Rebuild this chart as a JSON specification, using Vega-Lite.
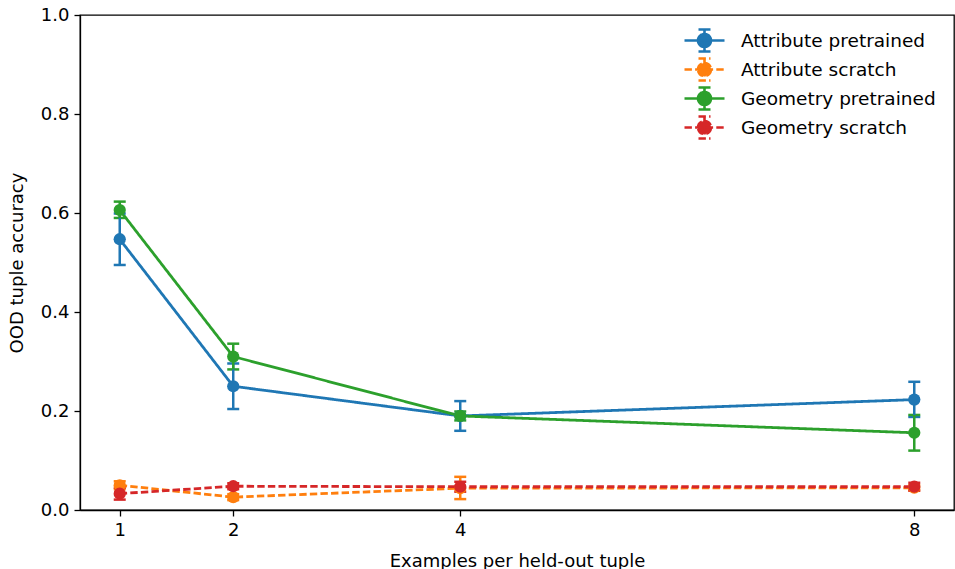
{
  "$schema": "https://vega.github.io/schema/vega-lite/v6.json",
  "width": 874,
  "height": 495,
  "autosize": {"type": "none"},
  "padding": {"left": 80, "top": 15, "right": 1, "bottom": 59},
  "background": "white",
  "config": {
    "font": "DejaVu Sans",
    "view": {"stroke": "black", "strokeWidth": 1.3},
    "axis": {
      "grid": false,
      "domainColor": "black",
      "domainWidth": 1.3,
      "tickColor": "black",
      "tickWidth": 1.3,
      "tickSize": 6,
      "labelFont": "DejaVu Sans",
      "labelFontSize": 18,
      "labelColor": "black",
      "labelPadding": 5,
      "titleFont": "DejaVu Sans",
      "titleFontSize": 18,
      "titleFontWeight": "normal",
      "titleColor": "black"
    }
  },
  "data": {
    "values": [
      {"series": "Attribute pretrained", "x": 1, "y": 0.547, "lo": 0.495, "hi": 0.599},
      {"series": "Attribute pretrained", "x": 2, "y": 0.250, "lo": 0.204, "hi": 0.296},
      {"series": "Attribute pretrained", "x": 4, "y": 0.190, "lo": 0.160, "hi": 0.220},
      {"series": "Attribute pretrained", "x": 8, "y": 0.223, "lo": 0.188, "hi": 0.259},
      {"series": "Attribute scratch", "x": 1, "y": 0.050, "lo": 0.042, "hi": 0.058},
      {"series": "Attribute scratch", "x": 2, "y": 0.026, "lo": 0.020, "hi": 0.032},
      {"series": "Attribute scratch", "x": 4, "y": 0.044, "lo": 0.022, "hi": 0.067},
      {"series": "Attribute scratch", "x": 8, "y": 0.045, "lo": 0.040, "hi": 0.050},
      {"series": "Geometry pretrained", "x": 1, "y": 0.606, "lo": 0.590, "hi": 0.623},
      {"series": "Geometry pretrained", "x": 2, "y": 0.310, "lo": 0.284, "hi": 0.336},
      {"series": "Geometry pretrained", "x": 4, "y": 0.190, "lo": 0.181, "hi": 0.199},
      {"series": "Geometry pretrained", "x": 8, "y": 0.156, "lo": 0.120, "hi": 0.192},
      {"series": "Geometry scratch", "x": 1, "y": 0.033, "lo": 0.021, "hi": 0.045},
      {"series": "Geometry scratch", "x": 2, "y": 0.048, "lo": 0.042, "hi": 0.054},
      {"series": "Geometry scratch", "x": 4, "y": 0.047, "lo": 0.037, "hi": 0.057},
      {"series": "Geometry scratch", "x": 8, "y": 0.047, "lo": 0.039, "hi": 0.055}
    ]
  },
  "layer": [
    {
      "mark": {"type": "line", "strokeWidth": 2.8, "clip": true},
      "encoding": {
        "x": {
          "field": "x", "type": "quantitative",
          "scale": {"domain": [0.65, 8.35], "nice": false, "zero": false},
          "axis": {"values": [1, 2, 4, 8], "format": "d", "title": "Examples per held-out tuple", "titlePadding": 13}
        },
        "y": {
          "field": "y", "type": "quantitative",
          "scale": {"domain": [0, 1], "nice": false},
          "axis": {"values": [0, 0.2, 0.4, 0.6, 0.8, 1.0], "format": ".1f", "title": "OOD tuple accuracy", "titlePadding": 14}
        },
        "color": {
          "field": "series", "type": "nominal",
          "scale": {
            "domain": ["Attribute pretrained", "Attribute scratch", "Geometry pretrained", "Geometry scratch"],
            "range": ["#1f77b4", "#ff7f0e", "#2ca02c", "#d62728"]
          },
          "legend": {
            "title": null,
            "orient": "none",
            "legendX": 613,
            "legendY": 14,
            "symbolType": "M-2,0H2M0,-1.1V1.1M-0.6,-1.1H0.6M-0.6,1.1H0.6M-0.65,0A0.65,0.65 0 1,1 0.65,0A0.65,0.65 0 1,1 -0.65,0Z",
            "symbolSize": 400,
            "symbolStrokeWidth": 2.6,
            "labelFontSize": 18.5,
            "labelFont": "DejaVu Sans",
            "labelColor": "black",
            "labelLimit": 0,
            "labelOffset": 25,
            "rowPadding": -4,
            "encode": {"symbols": {"update": {"fill": {"scale": "color", "field": "value"}, "fillOpacity": {"value": 1}, "opacity": {"value": 1}}}}
          }
        },
        "strokeDash": {
          "field": "series", "type": "nominal",
          "scale": {
            "domain": ["Attribute pretrained", "Attribute scratch", "Geometry pretrained", "Geometry scratch"],
            "range": [[1, 0], [7.4, 3.2], [1, 0], [7.4, 3.2]]
          },
          "legend": null
        }
      }
    },
    {
      "mark": {"type": "errorbar", "opacity": 1, "ticks": {"size": 12, "thickness": 2.5, "opacity": 1}, "rule": {"opacity": 1}, "thickness": 2.5},
      "encoding": {
        "x": {"field": "x", "type": "quantitative"},
        "y": {"field": "lo", "type": "quantitative", "title": "OOD tuple accuracy"},
        "y2": {"field": "hi"},
        "color": {"field": "series", "type": "nominal", "legend": null}
      }
    },
    {
      "mark": {"type": "point", "filled": true, "size": 150, "opacity": 1},
      "encoding": {
        "x": {"field": "x", "type": "quantitative"},
        "y": {"field": "y", "type": "quantitative"},
        "color": {"field": "series", "type": "nominal", "legend": null}
      }
    }
  ]
}
